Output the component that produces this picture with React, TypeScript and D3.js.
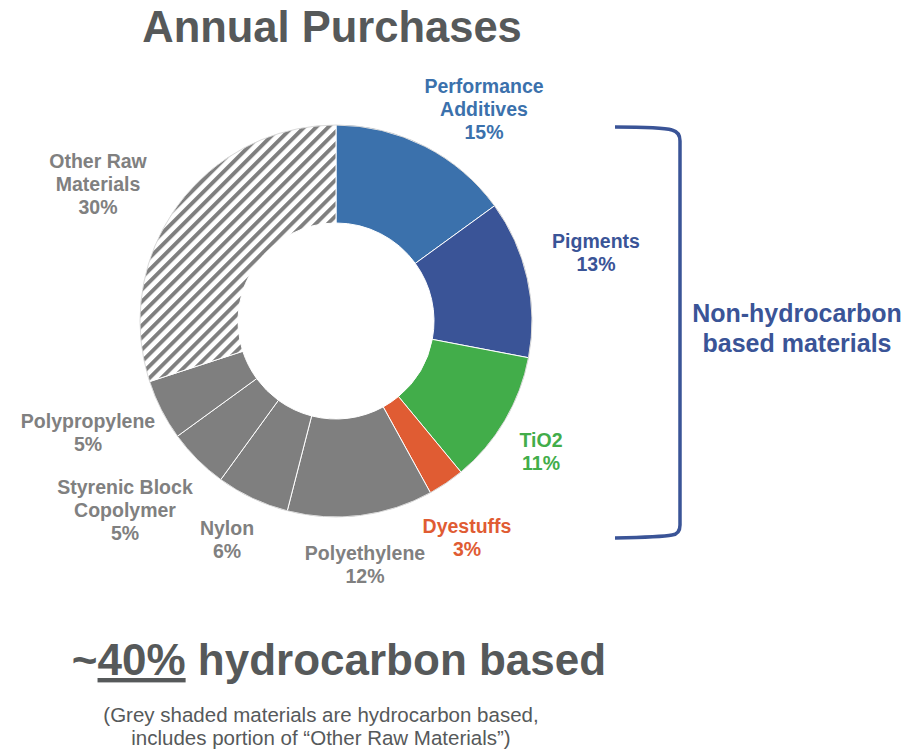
import React from "react";
import * as d3 from "d3";

const categories = [
  "Performance Additives",
  "Pigments",
  "TiO2",
  "Dyestuffs",
  "Polyethylene",
  "Nylon",
  "Styrenic Block Copolymer",
  "Polypropylene",
  "Other Raw Materials",
];
const values = [15, 13, 11, 3, 12, 6, 5, 5, 30];
const sliceColors = [
  "#3B71AC",
  "#3A5497",
  "#42AD4A",
  "#E05C33",
  "#7F7F7F",
  "#7F7F7F",
  "#7F7F7F",
  "#7F7F7F",
  "url(#hatch)",
];
const labelColors = [
  "#3B71AC",
  "#3A5497",
  "#42AD4A",
  "#E05C33",
  "#808080",
  "#808080",
  "#808080",
  "#808080",
  "#808080",
];
const labelLines = [
  ["Performance", "Additives"],
  ["Pigments"],
  ["TiO2"],
  ["Dyestuffs"],
  ["Polyethylene"],
  ["Nylon"],
  ["Styrenic Block", "Copolymer"],
  ["Polypropylene"],
  ["Other Raw", "Materials"],
];
// label anchor positions (center x, first line baseline y)
const labelPos: [number, number][] = [
  [484, 93],
  [596, 248],
  [541, 447],
  [467, 533],
  [365, 560],
  [227, 535],
  [125, 494],
  [88, 428],
  [98, 168],
];

export default function App() {
  const cx = 336;
  const cy = 321;
  const outerR = 196;
  const innerR = 98;
  const pie = d3
    .pie<number>()
    .sort(null)
    .value((d) => d);
  const arcs = pie(values);
  const arc = d3.arc<d3.PieArcDatum<number>>().innerRadius(innerR).outerRadius(outerR);
  const font = "'Liberation Sans', Arial, sans-serif";
  const lh = 22.8;

  return (
    <svg width={906} height={753} style={{ position: "absolute", left: 0, top: 0 }} fontFamily={font}>
      <defs>
        <pattern id="hatch" patternUnits="userSpaceOnUse" width={8.5} height={8.5} patternTransform="rotate(45)">
          <rect width={8.5} height={8.5} fill="#ffffff" />
          <rect x={0} y={0} width={3.9} height={8.5} fill="#7F7F7F" />
        </pattern>
      </defs>
      <rect width={906} height={753} fill="#ffffff" />
      <text x={332} y={42} textAnchor="middle" fontSize={43.5} fontWeight="bold" fill="#56595A">
        Annual Purchases
      </text>
      <g transform={`translate(${cx},${cy})`}>
        {arcs.map((a, i) => (
          <path key={categories[i]} d={arc(a) || ""} fill={sliceColors[i]} stroke="#ffffff" strokeWidth={1} />
        ))}
        <circle r={outerR} fill="none" stroke="#7F7F7F" strokeWidth={0.6} opacity={0.5} />
      </g>
      {categories.map((c, i) => {
        const [x, y] = labelPos[i];
        const lines = [...labelLines[i], `${values[i]}%`];
        return (
          <text key={c} x={x} y={y} textAnchor="middle" fontSize={19.5} fontWeight="bold" fill={labelColors[i]}>
            {lines.map((l, j) => (
              <tspan key={j} x={x} y={y + j * lh}>
                {l}
              </tspan>
            ))}
          </text>
        );
      })}
      <path
        d="M615,127 Q662,127 672,130 Q680,132 680,141 V525 Q680,534 672,535 Q662,537 615,538"
        fill="none"
        stroke="#3A5497"
        strokeWidth={3.5}
      />
      <text x={797} y={322} textAnchor="middle" fontSize={25} fontWeight="bold" fill="#3A5497">
        Non-hydrocarbon
      </text>
      <text x={797} y={352} textAnchor="middle" fontSize={25} fontWeight="bold" fill="#3A5497">
        based materials
      </text>
      <text x={339} y={675} textAnchor="middle" fontSize={44} fontWeight="bold" fill="#56595A">
        ~<tspan textDecoration="underline">40%</tspan> hydrocarbon based
      </text>
      <text x={321} y={722} textAnchor="middle" fontSize={20.5} fill="#56595A">
        (Grey shaded materials are hydrocarbon based,
      </text>
      <text x={321} y={745} textAnchor="middle" fontSize={20.5} fill="#56595A">
        includes portion of “Other Raw Materials”)
      </text>
    </svg>
  );
}
